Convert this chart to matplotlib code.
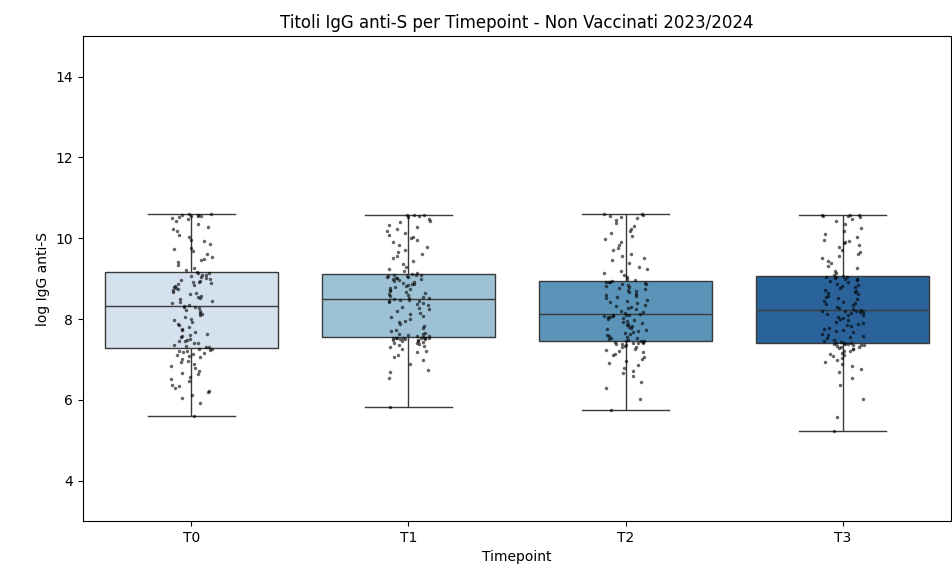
import numpy as np
import pandas as pd
import matplotlib
matplotlib.use('Agg')
import matplotlib.pyplot as plt
import seaborn as sns

# log IgG anti-S titres per timepoint (non vaccinated, season 2023/2024)
timepoints = ['T0', 'T1', 'T2', 'T3']

t0_vals = [5.60, 5.92, 6.05, 6.11, 6.19, 6.22, 6.30, 6.34, 6.38, 6.47, 6.52, 6.56, 6.63, 6.66, 6.71, 6.79,
           6.83, 6.90, 6.94, 6.97, 7.02, 7.05, 7.09, 7.10, 7.14, 7.16, 7.18, 7.20, 7.22, 7.24, 7.26, 7.27,
           7.30, 7.32, 7.34, 7.37, 7.40, 7.42, 7.45, 7.47, 7.49, 7.51, 7.55, 7.58, 7.61, 7.64, 7.69, 7.73,
           7.76, 7.81, 7.85, 7.88, 7.93, 7.97, 8.01, 8.04, 8.09, 8.13, 8.16, 8.20, 8.23, 8.27, 8.30, 8.31,
           8.33, 8.35, 8.40, 8.43, 8.44, 8.49, 8.53, 8.55, 8.58, 8.62, 8.64, 8.68, 8.71, 8.74, 8.77, 8.80,
           8.82, 8.85, 8.87, 8.89, 8.91, 8.93, 8.95, 8.97, 9.00, 9.02, 9.05, 9.06, 9.08, 9.10, 9.13, 9.15,
           9.17, 9.21, 9.27, 9.35, 9.41, 9.47, 9.49, 9.53, 9.60, 9.68, 9.74, 9.77, 9.85, 9.93, 9.96, 10.03,
           10.08, 10.17, 10.22, 10.29, 10.36, 10.42, 10.47, 10.51, 10.53, 10.54, 10.55, 10.56, 10.57, 10.58, 10.59, 10.60]

t1_vals = [5.82, 6.55, 6.68, 6.74, 6.90, 6.98, 7.05, 7.12, 7.18, 7.22, 7.27, 7.30, 7.33, 7.36, 7.38, 7.40,
           7.42, 7.44, 7.45, 7.47, 7.48, 7.49, 7.50, 7.51, 7.51, 7.52, 7.52, 7.53, 7.53, 7.54, 7.54, 7.54,
           7.56, 7.57, 7.58, 7.60, 7.62, 7.63, 7.66, 7.70, 7.74, 7.78, 7.83, 7.87, 7.92, 7.96, 8.00, 8.04,
           8.08, 8.12, 8.16, 8.20, 8.24, 8.28, 8.31, 8.34, 8.37, 8.40, 8.42, 8.44, 8.45, 8.47, 8.48, 8.49,
           8.51, 8.53, 8.55, 8.57, 8.60, 8.62, 8.65, 8.67, 8.70, 8.72, 8.75, 8.77, 8.79, 8.81, 8.84, 8.86,
           8.88, 8.90, 8.92, 8.94, 8.96, 8.98, 8.99, 9.01, 9.02, 9.04, 9.05, 9.06, 9.07, 9.08, 9.09, 9.10,
           9.12, 9.14, 9.18, 9.25, 9.30, 9.37, 9.44, 9.50, 9.56, 9.62, 9.67, 9.72, 9.78, 9.84, 9.90, 9.95,
           10.00, 10.04, 10.09, 10.13, 10.18, 10.23, 10.29, 10.34, 10.39, 10.43, 10.48, 10.52, 10.55, 10.57, 10.58, 10.58]

t2_vals = [5.75, 6.02, 6.30, 6.45, 6.58, 6.66, 6.72, 6.80, 6.86, 6.92, 6.97, 7.02, 7.06, 7.10, 7.14, 7.18,
           7.21, 7.24, 7.27, 7.30, 7.32, 7.34, 7.36, 7.38, 7.39, 7.40, 7.41, 7.42, 7.43, 7.44, 7.45, 7.45,
           7.47, 7.48, 7.50, 7.52, 7.54, 7.56, 7.58, 7.60, 7.62, 7.65, 7.67, 7.70, 7.72, 7.75, 7.78, 7.80,
           7.83, 7.85, 7.88, 7.90, 7.93, 7.95, 7.97, 8.00, 8.02, 8.04, 8.06, 8.07, 8.08, 8.09, 8.10, 8.11,
           8.13, 8.15, 8.18, 8.21, 8.24, 8.27, 8.30, 8.33, 8.36, 8.39, 8.42, 8.45, 8.48, 8.51, 8.54, 8.57,
           8.60, 8.63, 8.66, 8.69, 8.72, 8.75, 8.77, 8.80, 8.82, 8.84, 8.86, 8.88, 8.89, 8.91, 8.92, 8.93,
           8.95, 8.97, 9.00, 9.04, 9.08, 9.13, 9.19, 9.25, 9.30, 9.38, 9.45, 9.50, 9.56, 9.62, 9.70, 9.76,
           9.83, 9.90, 9.97, 10.05, 10.12, 10.18, 10.24, 10.30, 10.38, 10.44, 10.50, 10.53, 10.56, 10.58, 10.59, 10.60]

t3_vals = [5.23, 5.58, 6.02, 6.38, 6.55, 6.68, 6.76, 6.84, 6.90, 6.95, 7.00, 7.04, 7.08, 7.11, 7.14, 7.17,
           7.20, 7.22, 7.25, 7.27, 7.29, 7.31, 7.32, 7.34, 7.35, 7.36, 7.37, 7.38, 7.39, 7.39, 7.40, 7.40,
           7.42, 7.44, 7.46, 7.49, 7.52, 7.55, 7.58, 7.61, 7.64, 7.67, 7.70, 7.73, 7.76, 7.79, 7.82, 7.85,
           7.88, 7.91, 7.94, 7.97, 8.00, 8.03, 8.06, 8.09, 8.11, 8.13, 8.15, 8.17, 8.18, 8.19, 8.20, 8.21,
           8.23, 8.25, 8.28, 8.31, 8.34, 8.37, 8.40, 8.43, 8.46, 8.49, 8.52, 8.55, 8.58, 8.61, 8.64, 8.67,
           8.70, 8.73, 8.76, 8.79, 8.82, 8.85, 8.88, 8.91, 8.94, 8.96, 8.98, 9.00, 9.01, 9.03, 9.04, 9.05,
           9.07, 9.10, 9.14, 9.20, 9.26, 9.32, 9.38, 9.44, 9.50, 9.55, 9.60, 9.66, 9.72, 9.78, 9.84, 9.88,
           9.90, 9.92, 9.96, 10.02, 10.10, 10.18, 10.26, 10.35, 10.42, 10.48, 10.52, 10.55, 10.56, 10.57, 10.58, 10.58]

#------build long-form table for seaborn------
groups = [t0_vals, t1_vals, t2_vals, t3_vals]
df = pd.DataFrame({
    'Timepoint': np.repeat(timepoints, [len(g) for g in groups]),
    'log_igg': np.concatenate(groups),
})

np.random.seed(3)  # reproducible jitter
fig, ax = plt.subplots(figsize=(9.53, 5.74), dpi=100)
fig.subplots_adjust(left=0.087, right=0.998, top=0.937, bottom=0.092)

sns.boxplot(data=df, x='Timepoint', y='log_igg', hue='Timepoint', palette='Blues',
            legend=False, showfliers=False, ax=ax)
sns.stripplot(data=df, x='Timepoint', y='log_igg', color='black', size=2.5,
              alpha=0.6, jitter=True, ax=ax)

ax.set_ylim(3, 15)
ax.set_title('Titoli IgG anti-S per Timepoint - Non Vaccinati 2023/2024')
ax.set_xlabel('Timepoint')
ax.set_ylabel('log IgG anti-S')

plt.savefig('out.png')
